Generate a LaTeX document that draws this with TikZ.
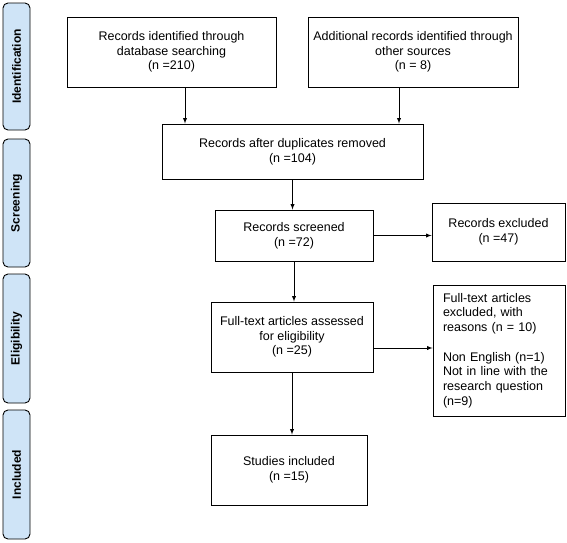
\documentclass[tikz,border=0pt]{standalone}
\usepackage{fontspec}
\setmainfont{Liberation Sans}
\usepackage{xcolor}
\usetikzlibrary{arrows}
\definecolor{phaseblue}{HTML}{CFE4F7}
\tikzset{
	box/.style={
			draw, line width=0.9pt, align=center, inner sep=2pt,
			font=\fontsize{12.5}{14.7}\selectfont
		},
	phase/.style={
			draw, line width=0.9pt, rounded corners=5pt, fill=phaseblue, rotate=90,
			minimum height=27pt, inner sep=0pt,
			font=\bfseries\fontsize{12}{14}\selectfont
		},
	flow/.style={-latex, line width=0.9pt}
}

\begin{document}
\begin{tikzpicture}[x=1pt, y=-1pt]
    \useasboundingbox (0, 0) rectangle (567, 542);
    % phases
    \node[phase, minimum width=127pt] (pid) at (16.5, 66.5) {Identification};
    \node[phase, minimum width=128pt] (psc) at (16.5, 203) {Screening};
    \node[phase, minimum width=129pt] (pel) at (16.5, 338.5) {Eligibility};
    \node[phase, minimum width=129pt] (pin) at (16.5, 474.5) {Included};
    % boxes
    \node[box, minimum width=209pt, minimum height=70pt] (db) at (171.5, 52)
        {Records identified through\\database searching\\(n =210)};
    \node[box, minimum width=210pt, minimum height=70pt] (other) at (413, 52)
        {Additional records identified through\\other sources\\(n = 8)};
    \node[box, minimum width=261pt, minimum height=55pt] (dup) at (292.5, 151.5)
        {Records after duplicates removed\\(n =104)};
    \node[box, minimum width=158pt, minimum height=51pt] (screened) at (294, 235.5)
        {Records screened\\(n =72)};
    \node[box, minimum width=133pt, minimum height=58pt] (excl) at (498.5, 232)
        {Records excluded\\(n =47)};
    \node[box, minimum width=162pt, minimum height=70pt] (fulltext) at (292, 337)
        {Full-text articles assessed\\for eligibility\\(n =25)};
    \node[box, align=left, text width=112pt, inner xsep=10pt, minimum height=131pt] (ftexcl) at (499, 350.5)
        {Full-text articles\\excluded, with\\reasons (n = 10)\\[14.7pt]Non English (n=1)\\Not in line with the\\research question\\(n=9)};
    \node[box, minimum width=156pt, minimum height=70pt] (studies) at (289, 470)
        {Studies included\\(n =15)};
    % arrows
    \draw[flow] ([xshift=13.5pt]db.south) -- ([xshift=13.5pt]db.south |- dup.north);
    \draw[flow] ([xshift=-14pt]other.south) -- ([xshift=-14pt]other.south |- dup.north);
    \draw[flow] (dup.south) -- (dup.south |- screened.north);
    \draw[flow] (screened.east) -- (screened.east -| excl.west);
    \draw[flow] (screened.south) -- (screened.south |- fulltext.north);
    \draw[flow] ([yshift=-11pt]fulltext.east) -- ([yshift=-11pt]fulltext.east -| ftexcl.west);
    \draw[flow] (fulltext.south) -- (fulltext.south |- studies.north);
\end{tikzpicture}
\end{document}
